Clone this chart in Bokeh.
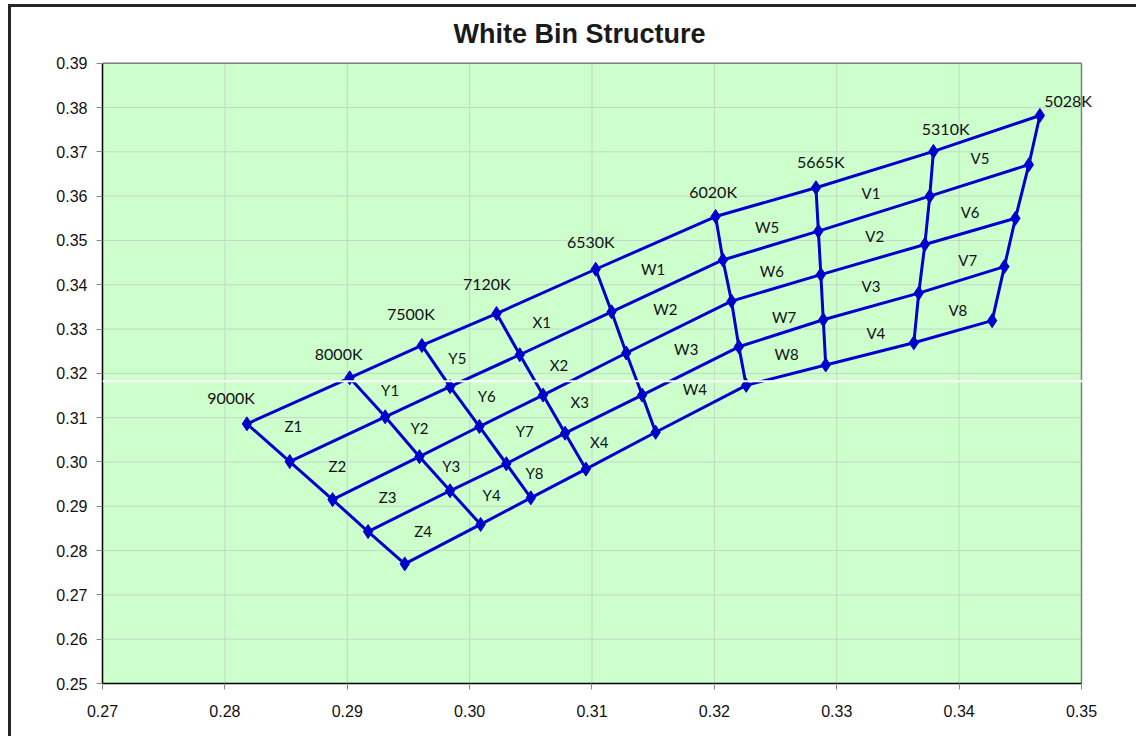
from bokeh.plotting import figure
from bokeh.models import ColumnDataSource, Label, LabelSet, FixedTicker, PrintfTickFormatter, Span
from bokeh.core.properties import value
from bokeh.embed import file_html
from bokeh.resources import INLINE

# ---------------- data ----------------
title_text = "White Bin Structure"

cct_labels = ["9000K", "8000K", "7500K", "7120K", "6530K", "6020K", "5665K", "5310K", "5028K"]

# node coordinates along each CCT boundary line (top row -> bottom row)
x_9000K = [0.2818, 0.2853, 0.2888, 0.2917, 0.2947]
y_9000K = [0.3086, 0.3001, 0.2915, 0.2843, 0.2770]
x_8000K = [0.2902, 0.2931, 0.2959, 0.2984, 0.3009]
y_8000K = [0.3190, 0.3102, 0.3012, 0.2935, 0.2859]
x_7500K = [0.2961, 0.2984, 0.3008, 0.3030, 0.3050]
y_7500K = [0.3263, 0.3170, 0.3080, 0.2996, 0.2919]
x_7120K = [0.3022, 0.3041, 0.3060, 0.3078, 0.3095]
y_7120K = [0.3335, 0.3242, 0.3151, 0.3065, 0.2984]
x_6530K = [0.3103, 0.3116, 0.3128, 0.3141, 0.3152]
y_6530K = [0.3435, 0.3339, 0.3246, 0.3151, 0.3067]
x_6020K = [0.3201, 0.3207, 0.3214, 0.3220, 0.3226]
y_6020K = [0.3554, 0.3456, 0.3363, 0.3260, 0.3173]
x_5665K = [0.3283, 0.3285, 0.3287, 0.3289, 0.3291]
y_5665K = [0.3619, 0.3521, 0.3423, 0.3321, 0.3219]
x_5310K = [0.3379, 0.3376, 0.3372, 0.3367, 0.3363]
y_5310K = [0.3701, 0.3600, 0.3491, 0.3381, 0.3269]
x_5028K = [0.3466, 0.3457, 0.3446, 0.3437, 0.3427]
y_5028K = [0.3782, 0.3671, 0.3550, 0.3441, 0.3319]

# CCT text label positions
cct_label_x = [0.2805, 0.2893, 0.2952, 0.3014, 0.3099, 0.3199, 0.3287, 0.3389, 0.3489]
cct_label_y = [0.3145, 0.3244, 0.3335, 0.3403, 0.3497, 0.3610, 0.3678, 0.3753, 0.3816]

# bin names and label positions
bin_names = ["Z1", "Z2", "Z3", "Z4", "Y1", "Y2", "Y3", "Y4", "Y5", "Y6", "Y7", "Y8",
             "X1", "X2", "X3", "X4", "W1", "W2", "W3", "W4", "W5", "W6", "W7", "W8",
             "V1", "V2", "V3", "V4", "V5", "V6", "V7", "V8"]
bin_label_x = [0.2856, 0.2892, 0.2933, 0.2962, 0.2935, 0.2959, 0.2985, 0.3018, 0.2990, 0.3014, 0.3045, 0.3053,
               0.3059, 0.3073, 0.3090, 0.3106, 0.3150, 0.3160, 0.3177, 0.3184, 0.3243, 0.3247, 0.3257, 0.3259,
               0.3328, 0.3331, 0.3328, 0.3332, 0.3417, 0.3409, 0.3407, 0.3399]
bin_label_y = [0.3082, 0.2992, 0.2922, 0.2845, 0.3163, 0.3077, 0.2992, 0.2926, 0.3235, 0.3150, 0.3071, 0.2976,
               0.3317, 0.3220, 0.3136, 0.3046, 0.3436, 0.3346, 0.3254, 0.3165, 0.3531, 0.3432, 0.3328, 0.3244,
               0.3606, 0.3509, 0.3398, 0.3290, 0.3687, 0.3565, 0.3457, 0.3344]

x_ticks = [0.27, 0.28, 0.29, 0.30, 0.31, 0.32, 0.33, 0.34, 0.35]
y_ticks = [0.25, 0.26, 0.27, 0.28, 0.29, 0.30, 0.31, 0.32, 0.33, 0.34, 0.35, 0.36, 0.37, 0.38, 0.39]
x_min, x_max = 0.27, 0.35
y_min, y_max = 0.25, 0.39

artifact_y = 0.3182  # white horizontal stripe seen in the source image

# ---------------- figure ----------------
BLUE = "#0000cc"
GRID = "#c4d8c4"
col_x = [x_9000K, x_8000K, x_7500K, x_7120K, x_6530K, x_6020K, x_5665K, x_5310K, x_5028K]
col_y = [y_9000K, y_8000K, y_7500K, y_7120K, y_6530K, y_6020K, y_5665K, y_5310K, y_5028K]

# the frame is extended past the plot area so that labels near the edge are not clipped
p = figure(width=1128, height=732, output_backend="svg", toolbar_location=None,
           x_range=(0.27, 0.35474), y_range=(0.25, 0.40258),
           min_border_left=91, min_border_right=0, min_border_top=0, min_border_bottom=56)
p.styles = {"margin-left": "8px", "margin-top": "4px",
            "border-left": "3px solid #262626", "border-top": "3px solid #262626"}
p.background_fill_color = "white"
p.border_fill_color = "white"
p.outline_line_color = None
p.xgrid.visible = False
p.ygrid.visible = False

for ax, ticks in ((p.xaxis, x_ticks), (p.yaxis, y_ticks)):
    ax.ticker = FixedTicker(ticks=ticks)
    ax.formatter = PrintfTickFormatter(format="%.2f")
    ax.axis_line_color = "black"
    ax.axis_line_width = 1.5
    ax.major_tick_line_color = "#888888"
    ax.major_tick_out = 6
    ax.major_tick_in = 0
    ax.minor_tick_line_color = None
    ax.major_label_text_font = "Liberation Sans"
    ax.major_label_text_font_size = "16px"
    ax.major_label_text_color = "#111111"
p.xaxis.bounds = (x_min, x_max)
p.yaxis.bounds = (y_min, y_max)
p.yaxis.major_label_standoff = 9
p.xaxis.major_label_standoff = 15

# plot area
p.quad(left=x_min, right=x_max, bottom=y_min, top=y_max, fill_color="#ccffcc",
       line_color=None, level="image")
p.segment(x0=x_min, x1=x_max, y0=y_ticks, y1=y_ticks, line_color=GRID, line_width=1, level="underlay")
p.segment(x0=x_ticks, x1=x_ticks, y0=y_min, y1=y_max, line_color=GRID, line_width=1, level="underlay")
# grey top/right border of the plot area
p.segment(x0=[x_min, x_max], x1=[x_max, x_max], y0=[y_max, y_min], y1=[y_max, y_max],
          line_color="#808080", line_width=1.5, level="underlay")

# boundary lines along CCT (columns)
p.multi_line(xs=col_x, ys=col_y, line_color=BLUE, line_width=3)
# rows across CCT
row_x = [[c[i] for c in col_x] for i in range(5)]
row_y = [[c[i] for c in col_y] for i in range(5)]
p.multi_line(xs=row_x, ys=row_y, line_color=BLUE, line_width=3)

all_x = [v for c in col_x for v in c]
all_y = [v for c in col_y for v in c]
p.scatter(all_x, all_y, marker="diamond", size=14, fill_color=BLUE, line_color=BLUE)

cct_src = ColumnDataSource(dict(x=cct_label_x, y=cct_label_y, t=cct_labels))
p.add_layout(LabelSet(x="x", y="y", text="t", source=cct_src, text_align="center",
                      text_baseline="middle", text_font=value("Lato"),
                      text_font_size="16px", text_color="#111111"))
bin_src = ColumnDataSource(dict(x=bin_label_x, y=bin_label_y, t=bin_names))
p.add_layout(LabelSet(x="x", y="y", text="t", source=bin_src, text_align="center",
                      text_baseline="middle", text_font=value("Lato"),
                      text_font_size="15px", text_color="#111111"))

p.add_layout(Span(location=artifact_y, dimension="width", line_color="white", line_width=2))

p.add_layout(Label(x=477, y=650, x_units="screen", y_units="screen", text=title_text,
                   text_align="center", text_baseline="alphabetic",
                   text_font="Liberation Sans", text_font_style="bold",
                   text_font_size="27px", text_color="#1a1a1a"))

open("out.html", "w").write(file_html(p, INLINE))
